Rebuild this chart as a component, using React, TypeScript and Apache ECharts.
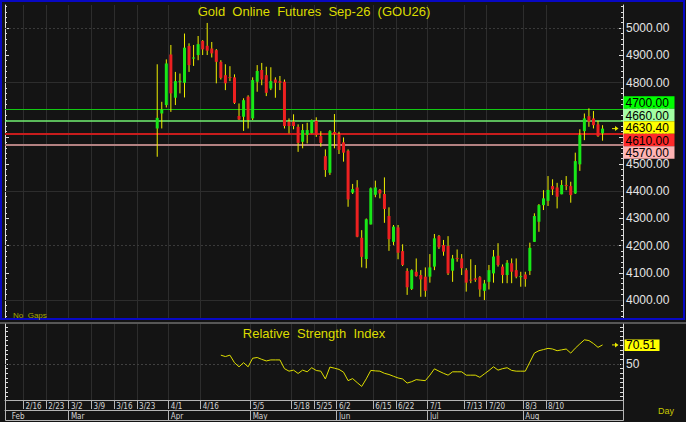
import React, { useEffect, useRef } from "react";
import * as echarts from "echarts";

const dates = [
  "2/10", "2/11", "2/12", "2/13",
  "2/16", "2/17", "2/18", "2/19", "2/20",
  "2/23", "2/24", "2/25", "2/26", "2/27",
  "3/2", "3/3", "3/4", "3/5", "3/6",
  "3/9", "3/10", "3/11", "3/12", "3/13",
  "3/16", "3/17", "3/18", "3/19", "3/20",
  "3/23", "3/24", "3/25", "3/26", "3/27", "3/30", "3/31",
  "4/1", "4/2", "4/6", "4/8", "4/9", "4/13", "4/15",
  "4/16", "4/17", "4/20", "4/21", "4/22", "4/23", "4/24", "4/27", "4/28", "4/29", "5/1",
  "5/5", "5/6", "5/7", "5/8", "5/11", "5/12", "5/13", "5/14", "5/15",
  "5/18", "5/19", "5/20", "5/21", "5/22",
  "5/25", "5/26", "5/27", "5/28", "5/29",
  "6/2", "6/3", "6/4", "6/5", "6/8", "6/9", "6/10", "6/12",
  "6/15", "6/16", "6/17", "6/18", "6/19",
  "6/22", "6/23", "6/24", "6/25", "6/26", "6/29", "6/30",
  "7/1", "7/2", "7/3", "7/6", "7/7", "7/8", "7/9", "7/10",
  "7/13", "7/14", "7/15", "7/16", "7/17",
  "7/20", "7/21", "7/22", "7/23", "7/24", "7/27", "7/29", "7/31",
  "8/3", "8/4", "8/5", "8/6", "8/7",
  "8/10", "8/11", "8/12", "8/13", "8/14", "8/17", "8/18", "8/19", "8/20", "8/21",
  "8/24", "8/25", "8/26", "8/27", "8/28", "8/31", "9/1",
];

const weekLabels = [
  "2/16", "2/23", "3/2", "3/9", "3/16", "3/23", "4/1", "4/16", "5/5", "5/18",
  "5/25", "6/2", "6/15", "6/22", "7/1", "7/13", "7/20", "8/3", "8/10",
];
const monthStarts = ["2/11", "3/2", "4/1", "5/5", "6/2", "7/1", "8/3"];
const monthNames = ["Feb", "Mar", "Apr", "May", "Jun", "Jul", "Aug"];

// first candle sits on dates[candleStart]; each row = [open, close, low, high]
const candleStart = 33;
const candles = [
  [4631, 4670, 4527, 4867], [4686, 4701, 4631, 4729], [4717, 4870, 4708, 4885],
  [4903, 4760, 4692, 4938], [4744, 4805, 4717, 4839], [4803, 4806, 4760, 4833],
  [4799, 4928, 4745, 4980], [4934, 4864, 4839, 4944], [4888, 4892, 4861, 4938],
  [4901, 4941, 4882, 4971], [4953, 4922, 4901, 4956], [4935, 4917, 4901, 5019],
  [4925, 4907, 4892, 4949], [4919, 4876, 4797, 4923], [4876, 4817, 4811, 4882],
  [4827, 4797, 4772, 4867], [4820, 4818, 4805, 4860], [4819, 4725, 4721, 4830],
  [4677, 4664, 4662, 4723], [4674, 4735, 4622, 4742], [4748, 4662, 4631, 4753],
  [4668, 4809, 4662, 4819], [4803, 4842, 4766, 4864], [4846, 4811, 4790, 4872],
  [4827, 4762, 4750, 4858], [4778, 4805, 4772, 4856], [4811, 4799, 4744, 4819],
  [4805, 4799, 4772, 4824], [4803, 4640, 4631, 4811], [4656, 4640, 4613, 4668],
  [4656, 4640, 4628, 4683], [4637, 4578, 4545, 4646], [4582, 4625, 4558, 4647],
  [4607, 4625, 4576, 4652], [4614, 4662, 4613, 4664], [4659, 4607, 4600, 4672],
  [4603, 4578, 4564, 4621], [4529, 4478, 4453, 4554], [4468, 4621, 4460, 4625],
  [4618, 4610, 4558, 4684], [4610, 4552, 4537, 4619], [4580, 4542, 4509, 4598],
  [4549, 4370, 4343, 4554], [4395, 4408, 4390, 4427], [4414, 4233, 4231, 4441],
  [4229, 4159, 4120, 4257], [4151, 4297, 4117, 4300], [4278, 4411, 4278, 4414],
  [4387, 4414, 4378, 4439], [4405, 4392, 4374, 4408], [4390, 4335, 4284, 4451],
  [4309, 4224, 4181, 4341], [4214, 4270, 4202, 4276], [4267, 4174, 4150, 4276],
  [4180, 4129, 4125, 4205], [4107, 4047, 4019, 4117], [4041, 4110, 4037, 4113],
  [4104, 4088, 4086, 4153], [4092, 4076, 4012, 4110], [4086, 4034, 4012, 4120],
  [4086, 4120, 4064, 4169], [4123, 4227, 4110, 4243], [4235, 4194, 4188, 4239],
  [4202, 4178, 4163, 4221], [4199, 4098, 4092, 4235], [4108, 4153, 4067, 4166],
  [4155, 4152, 4141, 4186], [4153, 4117, 4092, 4169], [4110, 4064, 4031, 4117],
  [4075, 4072, 4062, 4150], [4080, 4074, 4067, 4129], [4084, 4039, 4012, 4088],
  [4034, 4061, 4000, 4074], [4067, 4110, 4039, 4129], [4098, 4160, 4064, 4184],
  [4163, 4129, 4123, 4209], [4123, 4092, 4062, 4131], [4092, 4137, 4062, 4147],
  [4135, 4104, 4062, 4153], [4110, 4086, 4080, 4153], [4085, 4088, 4049, 4104],
  [4094, 4077, 4049, 4104], [4107, 4192, 4092, 4211], [4214, 4309, 4214, 4319],
  [4288, 4349, 4251, 4353], [4349, 4374, 4331, 4404], [4365, 4405, 4346, 4456],
  [4419, 4407, 4386, 4444], [4414, 4380, 4337, 4431], [4389, 4423, 4389, 4441],
  [4423, 4419, 4404, 4456], [4419, 4386, 4358, 4435], [4392, 4511, 4390, 4542],
  [4499, 4607, 4475, 4628], [4621, 4668, 4588, 4686], [4676, 4656, 4637, 4705],
  [4668, 4643, 4631, 4695], [4646, 4603, 4600, 4659], [4613, 4630.4, 4586, 4643],
];

// first RSI value sits on dates[rsiStart]
const rsiStart = 47;
const rsi = [
  59.5, 58, 59.5, 51.4, 47, 51.4, 47, 56.2, 57, 55,
  53.3, 54.4, 54.4, 54.4, 45, 42.3, 43.4, 39.8, 43.4, 41.6,
  46, 43, 42.3, 33.9, 46.7, 45.5, 44.2, 41.2, 32.1, 34.3,
  30, 25.9, 34, 43.1, 42.6, 42.3, 40, 38.7, 36.8, 35,
  33.9, 29.5, 31, 33.2, 32.6, 32.1, 38, 44.8, 42.3, 40,
  38, 41.6, 41.6, 41.6, 38, 38, 38, 35.7, 39.4, 43,
  47, 43.4, 45, 46, 43.1, 42.3, 42.3, 42.3, 52, 61.7,
  64.3, 65.5, 66.8, 66.1, 64.3, 65.2, 66.1, 61.7, 67, 71.6,
  76, 75.2, 72, 67.9, 70.51,
];

const priceTickLabels = [4000, 4100, 4200, 4300, 4400, 4500, 4600, 4700, 4800, 4900, 5000];
const gridSolidLevels = [4000, 4400, 4800];
const gridDottedLevels = [4200, 5000];
const priceLevels = [4700, 4660, 4610, 4570];
const rsiLabelTicks = [50];

const FONT = "'Liberation Sans', Arial, Helvetica, sans-serif";
const BG = "#141414";
const GRID = "#2d2d2d";
const AXIS = "#dcdcdc";
const WICK = "#f0f000";
const UP = "#18e818";
const DOWN = "#ec2020";
const levelLine = [
  { color: "#12c812", width: 1 },
  { color: "#72f272", width: 1.5 },
  { color: "#c81c1c", width: 2 },
  { color: "#b48282", width: 2 },
];
const levelBox = ["#00ff00", "#a2ffa2", "#ff2a2a", "#ffb4b4"];

export default function App() {
  const ref = useRef<HTMLDivElement>(null);

  useEffect(() => {
    const el = ref.current;
    if (!el) return;
    const chart = echarts.init(el, null, { renderer: "svg" });

    const weekIdx = new Set<number>();
    const monthIdx = new Set<number>();
    dates.forEach((d, i) => {
      if (weekLabels.includes(d)) weekIdx.add(i);
      if (monthStarts.includes(d)) monthIdx.add(i);
    });
    const firstMonth = dates.indexOf(monthStarts[0]);

    const candleData = candles.map((c, k) => [candleStart + k, c[0], c[1], c[2], c[3]]);
    const closeData = candles.map((c, k) => [candleStart + k, c[1]]);
    const rsiData = dates.map((_, i) =>
      i >= rsiStart && i < rsiStart + rsi.length ? rsi[i - rsiStart] : null
    );

    const minorPrice: number[] = [];
    for (let v = 3940; v <= 5080; v += 20) minorPrice.push(v);
    const rsiTicks: number[] = [];
    for (let v = 15; v <= 90; v += 5) rsiTicks.push(v);

    const priceMin = 3934;
    const priceMax = 5085;

    const yBase = (grid: number, pos: "left" | "right", min: number, max: number) => ({
      type: "value" as const,
      gridIndex: grid,
      position: pos,
      min,
      max,
      scale: true,
      splitLine: { show: false },
    });

    const smallFont = "'Liberation Sans Narrow', 'DejaVu Sans Condensed', Arial, sans-serif";

    const option: any = {
      animation: false,
      backgroundColor: BG,
      textStyle: { fontFamily: FONT },
      grid: [
        { left: 5, top: 5, width: 618, height: 313 },
        { left: 5, top: 324, width: 618, height: 76 },
      ],
      xAxis: [
        {
          type: "category",
          gridIndex: 0,
          data: dates,
          boundaryGap: true,
          axisLine: { show: false },
          axisTick: { show: false },
          axisLabel: { show: false },
          splitLine: {
            show: true,
            interval: (i: number) => weekIdx.has(i),
            lineStyle: { color: GRID, width: 1 },
          },
        },
        {
          type: "category",
          gridIndex: 1,
          data: dates,
          position: "bottom",
          boundaryGap: true,
          axisLine: { show: true, lineStyle: { color: "#b4b4b4", width: 1 } },
          axisTick: {
            show: true,
            length: 9,
            interval: (i: number) => weekIdx.has(i),
            lineStyle: { color: "#b4b4b4", width: 1 },
          },
          axisLabel: {
            show: true,
            interval: (i: number) => weekIdx.has(i),
            align: "left",
            margin: 2,
            fontSize: 8,
            color: "#d4d4d4",
            fontFamily: smallFont,
          },
          splitLine: {
            show: true,
            interval: (i: number) => weekIdx.has(i),
            lineStyle: { color: GRID, width: 1 },
          },
        },
        {
          type: "category",
          gridIndex: 1,
          data: dates,
          position: "bottom",
          offset: 10,
          boundaryGap: true,
          axisLine: { show: true, lineStyle: { color: "#b4b4b4", width: 1 } },
          axisTick: {
            show: true,
            length: 10,
            interval: (i: number) => monthIdx.has(i) && i !== firstMonth,
            lineStyle: { color: "#b4b4b4", width: 1 },
          },
          axisLabel: {
            show: true,
            interval: (i: number) => monthIdx.has(i),
            formatter: (v: string) => monthNames[monthStarts.indexOf(v)] || "",
            align: "left",
            margin: 2,
            fontSize: 8,
            color: "#d4d4d4",
            fontFamily: smallFont,
          },
          splitLine: { show: false },
        },
      ],
      yAxis: [
        {
          ...yBase(0, "right", priceMin, priceMax),
          axisLine: { show: true, lineStyle: { color: AXIS, width: 1 } },
          axisTick: {
            show: true,
            inside: true,
            length: 4,
            customValues: priceTickLabels,
            lineStyle: { color: AXIS },
          },
          axisLabel: {
            show: true,
            customValues: priceTickLabels,
            formatter: (v: number) => v.toFixed(2),
            color: "#e4e4e4",
            fontSize: 12,
            lineHeight: 12,
            margin: 3,
            fontFamily: FONT,
          },
        },
        {
          ...yBase(0, "right", priceMin, priceMax),
          axisLine: { show: false },
          axisTick: {
            show: true,
            inside: true,
            length: 2,
            customValues: minorPrice,
            lineStyle: { color: AXIS },
          },
          axisLabel: { show: false },
        },
        {
          ...yBase(0, "left", priceMin, priceMax),
          axisLine: { show: true, lineStyle: { color: AXIS, width: 1 } },
          axisTick: {
            show: true,
            inside: true,
            length: 4,
            customValues: priceTickLabels,
            lineStyle: { color: AXIS },
          },
          axisLabel: { show: false },
        },
        {
          ...yBase(0, "left", priceMin, priceMax),
          axisLine: { show: false },
          axisTick: {
            show: true,
            inside: true,
            length: 2,
            customValues: minorPrice,
            lineStyle: { color: AXIS },
          },
          axisLabel: { show: false },
        },
        {
          ...yBase(1, "right", 11.3, 93),
          axisLine: { show: true, lineStyle: { color: AXIS, width: 1 } },
          axisTick: {
            show: true,
            inside: true,
            length: 3,
            customValues: rsiTicks,
            lineStyle: { color: AXIS },
          },
          axisLabel: {
            show: true,
            customValues: rsiLabelTicks,
            color: "#e4e4e4",
            fontSize: 12,
            margin: 3,
            fontFamily: FONT,
          },
        },
        {
          ...yBase(1, "left", 11.3, 93),
          axisLine: { show: true, lineStyle: { color: AXIS, width: 1 } },
          axisTick: {
            show: true,
            inside: true,
            length: 3,
            customValues: rsiTicks,
            lineStyle: { color: AXIS },
          },
          axisLabel: { show: false },
        },
      ],
      series: [
        {
          type: "line",
          xAxisIndex: 0,
          yAxisIndex: 0,
          data: closeData,
          symbol: "none",
          silent: true,
          lineStyle: { opacity: 0 },
          z: 1,
          markLine: {
            silent: true,
            symbol: "none",
            animation: false,
            label: { show: false },
            data: [
              ...gridSolidLevels.map((v) => ({
                yAxis: v,
                lineStyle: { color: GRID, width: 1, type: "solid" },
              })),
              ...gridDottedLevels.map((v) => ({
                yAxis: v,
                lineStyle: { color: "#3a3a3a", width: 1, type: [2, 2] },
              })),
              ...priceLevels.map((v, k) => ({
                yAxis: v,
                lineStyle: { color: levelLine[k].color, width: levelLine[k].width, type: "solid" },
              })),
            ],
          },
        },
        {
          type: "custom",
          xAxisIndex: 0,
          yAxisIndex: 0,
          data: candleData,
          encode: { x: 0, y: [1, 2, 3, 4] },
          z: 5,
          renderItem: (_params: any, api: any) => {
            const i = api.value(0);
            const o = api.value(1);
            const c = api.value(2);
            const pO = api.coord([i, o]);
            const pC = api.coord([i, c]);
            const pL = api.coord([i, api.value(3)]);
            const pH = api.coord([i, api.value(4)]);
            const x = pO[0];
            const top = Math.min(pO[1], pC[1]);
            const h = Math.max(1, Math.abs(pO[1] - pC[1]));
            return {
              type: "group",
              children: [
                {
                  type: "line",
                  shape: { x1: x, y1: pH[1], x2: x, y2: pL[1] },
                  style: { stroke: WICK, lineWidth: 1 },
                },
                {
                  type: "rect",
                  shape: { x: x - 1.5, y: top, width: 3, height: h },
                  style: { fill: c > o ? UP : DOWN },
                },
              ],
            };
          },
        },
        {
          type: "line",
          xAxisIndex: 1,
          yAxisIndex: 4,
          data: rsiData,
          symbol: "none",
          connectNulls: false,
          lineStyle: { color: "#dede00", width: 1 },
          z: 5,
          markLine: {
            silent: true,
            symbol: "none",
            animation: false,
            label: { show: false },
            data: [{ yAxis: 50, lineStyle: { color: "#404040", width: 1, type: [2, 2] } }],
          },
        },
      ],
    };

    chart.setOption(option);

    // right-hand value boxes, stacked where they would overlap
    const lastClose = candles[candles.length - 1][1];
    const boxes = [
      { v: priceLevels[0], bg: levelBox[0] },
      { v: priceLevels[1], bg: levelBox[1] },
      { v: lastClose, bg: "#ffff00" },
      { v: priceLevels[2], bg: levelBox[2] },
      { v: priceLevels[3], bg: levelBox[3] },
    ]
      .map((b) => ({ ...b, y: chart.convertToPixel({ yAxisIndex: 0 }, b.v) as number }))
      .sort((a, b) => a.y - b.y);

    const BH = 12.5;
    const clusters = boxes.map((b) => ({ ys: [b.y] }));
    let merged = true;
    while (merged) {
      merged = false;
      for (let k = 0; k < clusters.length - 1; k++) {
        const a = clusters[k];
        const b = clusters[k + 1];
        const ca = a.ys.reduce((s, y) => s + y, 0) / a.ys.length;
        const cb = b.ys.reduce((s, y) => s + y, 0) / b.ys.length;
        if (ca + (a.ys.length * BH) / 2 > cb - (b.ys.length * BH) / 2) {
          clusters.splice(k, 2, { ys: [...a.ys, ...b.ys] });
          merged = true;
          break;
        }
      }
    }
    const placed: number[] = [];
    clusters.forEach((cl) => {
      const c = cl.ys.reduce((s, y) => s + y, 0) / cl.ys.length;
      cl.ys.forEach((_, j) => placed.push(c + (j - (cl.ys.length - 1) / 2) * BH));
    });

    const graphics: any[] = [];
    boxes.forEach((b, k) => {
      const cy = placed[k];
      graphics.push({
        type: "rect",
        z: 100,
        shape: { x: 623.5, y: cy - BH / 2, width: 51, height: BH },
        style: { fill: b.bg },
      });
      graphics.push({
        type: "text",
        z: 101,
        x: 625.5,
        y: cy + 0.5,
        style: {
          text: b.v.toFixed(2),
          fill: "#000",
          font: `12px ${FONT}`,
          lineHeight: 12,
          verticalAlign: "middle",
          align: "left",
        },
      });
    });

    const arrow = (y: number) => [
      {
        type: "line",
        z: 100,
        shape: { x1: 612, y1: y, x2: 617, y2: y },
        style: { stroke: "#e8e800", lineWidth: 1 },
      },
      {
        type: "polygon",
        z: 100,
        shape: { points: [[615, y - 2.5], [618.5, y], [615, y + 2.5]] },
        style: { fill: "#e8e800" },
      },
    ];
    const yClose = chart.convertToPixel({ yAxisIndex: 0 }, lastClose) as number;
    graphics.push(...arrow(yClose));

    const lastRsi = rsi[rsi.length - 1];
    const yRsi = chart.convertToPixel({ yAxisIndex: 4 }, lastRsi) as number;
    graphics.push(...arrow(yRsi));
    graphics.push({
      type: "rect",
      z: 100,
      shape: { x: 624.5, y: yRsi - 5.5, width: 35, height: 11.5 },
      style: { fill: "#ffff00" },
    });
    graphics.push({
      type: "text",
      z: 101,
      x: 626,
      y: yRsi + 0.5,
      style: {
        text: lastRsi.toFixed(2),
        fill: "#000",
        font: `12px ${FONT}`,
        lineHeight: 12,
        verticalAlign: "middle",
        align: "left",
      },
    });

    // panel frames
    graphics.push({
      type: "rect",
      z: 90,
      shape: { x: 1, y: 1, width: 683, height: 318 },
      style: { fill: "none", stroke: "#0808c4", lineWidth: 2 },
    });
    graphics.push({
      type: "line",
      z: 90,
      shape: { x1: 0, y1: 323, x2: 686, y2: 323 },
      style: { stroke: "#9a9a9a", lineWidth: 1 },
    });
    graphics.push({
      type: "polyline",
      z: 90,
      shape: { points: [[5.5, 400], [5.5, 420.5], [623.5, 420.5], [623.5, 400]] },
      style: { fill: "none", stroke: "#b4b4b4", lineWidth: 1 },
    });

    // titles and notes
    graphics.push({
      type: "text",
      z: 95,
      x: 314,
      y: 11,
      style: {
        text: "Gold  Online  Futures  Sep-26  (GOU26)",
        fill: "#dcdc00",
        font: `13px ${FONT}`,
        align: "center",
        verticalAlign: "middle",
      },
    });
    graphics.push({
      type: "text",
      z: 95,
      x: 314,
      y: 333,
      style: {
        text: "Relative  Strength  Index",
        fill: "#dcdc00",
        font: `13px ${FONT}`,
        align: "center",
        verticalAlign: "middle",
      },
    });
    graphics.push({
      type: "text",
      z: 95,
      x: 13,
      y: 315,
      style: {
        text: "No  Gaps",
        fill: "#a8a800",
        font: `8px ${FONT}`,
        align: "left",
        verticalAlign: "middle",
      },
    });
    graphics.push({
      type: "text",
      z: 95,
      x: 658,
      y: 411,
      style: {
        text: "Day",
        fill: "#c8c800",
        font: `9px ${FONT}`,
        align: "left",
        verticalAlign: "middle",
      },
    });

    chart.setOption({ graphic: graphics });

    return () => {
      chart.dispose();
    };
  }, []);

  return (
    <div
      ref={ref}
      style={{ position: "fixed", left: 0, top: 0, width: 686, height: 422 }}
    />
  );
}
